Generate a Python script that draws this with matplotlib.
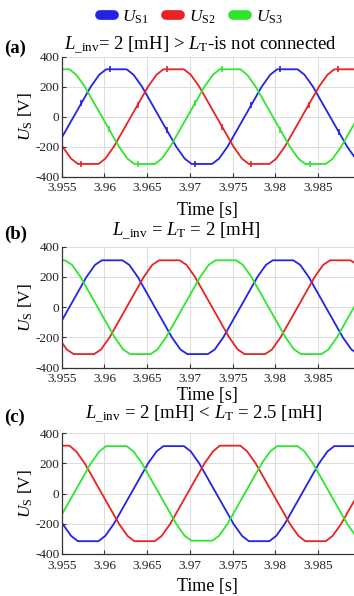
import numpy as np
import matplotlib.pyplot as plt
from matplotlib.lines import Line2D

plt.rcParams['font.family'] = ['Liberation Serif', 'DejaVu Serif']
plt.rcParams['mathtext.fontset'] = 'custom'
plt.rcParams['mathtext.rm'] = 'Liberation Serif'
plt.rcParams['mathtext.it'] = 'Liberation Serif:italic'
plt.rcParams['mathtext.bf'] = 'Liberation Serif:bold'

# ---- panel (a): L_inv = 2 mH, LT not connected ----
t_a1 = [3.9544, 3.9564, 3.9584, 3.9594, 3.9602, 3.9626, 3.9634, 3.9644, 3.9664, 3.9684, 3.9694, 3.9702, 3.9726,
        3.9734, 3.9744, 3.9764, 3.9784, 3.9794, 3.9802, 3.9826, 3.9834, 3.9844, 3.9864, 3.9884, 3.9894]
us_a1 = [-200, 0, 200, 280, 316, 316, 280, 200, 0, -200, -280, -315, -315, -280, -200, 0, 200, 280, 316, 316, 280,
         200, 0, -200, -280]
t_a2 = [3.9531, 3.9551, 3.9561, 3.9569, 3.9593, 3.9601, 3.9611, 3.9631, 3.9651, 3.9661, 3.9669, 3.9693, 3.9701,
        3.9711, 3.9731, 3.9751, 3.9761, 3.9769, 3.9793, 3.9801, 3.9811, 3.9831, 3.9851, 3.9861, 3.9869, 3.9893]
us_a2 = [0, -200, -280, -315, -315, -280, -200, 0, 200, 280, 316, 316, 280, 200, 0, -200, -280, -315, -315, -280,
         -200, 0, 200, 280, 316, 316]
t_a3 = [3.9535, 3.9559, 3.9567, 3.9577, 3.9597, 3.9617, 3.9627, 3.9635, 3.9659, 3.9667, 3.9677, 3.9697, 3.9717,
        3.9727, 3.9735, 3.9759, 3.9767, 3.9777, 3.9797, 3.9817, 3.9827, 3.9835, 3.9859, 3.9867, 3.9877, 3.9897]
us_a3 = [316, 316, 280, 200, 0, -200, -280, -315, -315, -280, -200, 0, 200, 280, 316, 316, 280, 200, 0, -200, -280,
         -315, -315, -280, -200, 0]
# scope markers on panel (a)
mk_a1 = [3.9573, 3.9606, 3.9673, 3.9706, 3.9772, 3.9805, 3.9874]
mk_a2 = [3.9572, 3.9639, 3.9673, 3.9738, 3.9772, 3.9839, 3.9873]
mk_a3 = [3.9605, 3.9639, 3.9706, 3.9738, 3.9806, 3.9840]

# ---- panel (b): L_inv = LT = 2 mH ----
t_b1 = [3.9539, 3.9559, 3.9579, 3.9589, 3.9597, 3.9621, 3.9629, 3.9639, 3.9659, 3.9679, 3.9689, 3.9697, 3.9721,
        3.9729, 3.9739, 3.9759, 3.9779, 3.9789, 3.9797, 3.9821, 3.9829, 3.9839, 3.9859, 3.9879, 3.9889, 3.9897]
us_b1 = [-200, 0, 200, 280, 310, 310, 280, 200, 0, -200, -280, -310, -310, -280, -200, 0, 200, 280, 310, 310, 280,
         200, 0, -200, -280, -310]
t_b2 = [3.9526, 3.9546, 3.9556, 3.9564, 3.9588, 3.9596, 3.9606, 3.9626, 3.9646, 3.9656, 3.9664, 3.9688, 3.9696,
        3.9706, 3.9726, 3.9746, 3.9756, 3.9764, 3.9788, 3.9796, 3.9806, 3.9826, 3.9846, 3.9856, 3.9864, 3.9888, 3.9896]
us_b2 = [0, -200, -280, -310, -310, -280, -200, 0, 200, 280, 310, 310, 280, 200, 0, -200, -280, -310, -310, -280,
         -200, 0, 200, 280, 310, 310, 280]
t_b3 = [3.9530, 3.9554, 3.9562, 3.9572, 3.9592, 3.9612, 3.9622, 3.9630, 3.9654, 3.9662, 3.9672, 3.9692, 3.9712,
        3.9722, 3.9730, 3.9754, 3.9762, 3.9772, 3.9792, 3.9812, 3.9822, 3.9830, 3.9854, 3.9862, 3.9872, 3.9892, 3.9912]
us_b3 = [310, 310, 280, 200, 0, -200, -280, -310, -310, -280, -200, 0, 200, 280, 310, 310, 280, 200, 0, -200, -280,
         -310, -310, -280, -200, 0, 200]

# ---- panel (c): L_inv = 2 mH < LT = 2.5 mH ----
t_c1 = [3.9531, 3.9551, 3.9561, 3.9569, 3.9593, 3.9601, 3.9611, 3.9631, 3.9651, 3.9661, 3.9669, 3.9693, 3.9701,
        3.9711, 3.9731, 3.9751, 3.9761, 3.9769, 3.9793, 3.9801, 3.9811, 3.9831, 3.9851, 3.9861, 3.9869, 3.9893]
us_c1 = [0, -200, -280, -315, -315, -280, -200, 0, 200, 280, 315, 315, 280, 200, 0, -200, -280, -315, -315, -280,
         -200, 0, 200, 280, 315, 315]
t_c2 = [3.9535, 3.9559, 3.9567, 3.9577, 3.9597, 3.9617, 3.9627, 3.9635, 3.9659, 3.9667, 3.9677, 3.9697, 3.9717,
        3.9727, 3.9735, 3.9759, 3.9767, 3.9777, 3.9797, 3.9817, 3.9827, 3.9835, 3.9859, 3.9867, 3.9877, 3.9897]
us_c2 = [318, 318, 280, 200, 0, -200, -280, -315, -315, -280, -200, 0, 200, 280, 318, 318, 280, 200, 0, -200, -280,
         -315, -315, -280, -200, 0]
t_c3 = [3.9544, 3.9564, 3.9584, 3.9594, 3.9602, 3.9626, 3.9634, 3.9644, 3.9664, 3.9684, 3.9694, 3.9702, 3.9726,
        3.9734, 3.9744, 3.9764, 3.9784, 3.9794, 3.9802, 3.9826, 3.9834, 3.9844, 3.9864, 3.9884, 3.9894]
us_c3 = [-200, 0, 200, 280, 315, 315, 280, 200, 0, -200, -280, -312, -312, -280, -200, 0, 200, 280, 315, 315, 280,
         200, 0, -200, -280]

xticks = [3.955, 3.96, 3.965, 3.97, 3.975, 3.98, 3.985]
xtick_labels = ['3.955', '3.96', '3.965', '3.97', '3.975', '3.98', '3.985']
yticks = [-400, -200, 0, 200, 400]
ytick_labels = ['-400', '-200', '0', '200', '400']

colors = ['#2323e6', '#e82323', '#2ee62e']
phase_names = [r'$U_{\mathrm{S1}}$', r'$U_{\mathrm{S2}}$', r'$U_{\mathrm{S3}}$']

W, H = 354, 596
fig = plt.figure(figsize=(W / 100, H / 100), dpi=100)


def add_panel(top, bottom):
    left = 61.7
    return fig.add_axes([left / W, 1 - bottom / H, (W - left) / W, (bottom - top) / H])


def style(ax, xpad):
    ax.set_xlim(3.955, 3.9892)
    ax.set_ylim(-400, 400)
    ax.set_xticks(xticks)
    ax.set_xticklabels(xtick_labels)
    ax.set_yticks(yticks)
    ax.set_yticklabels(ytick_labels)
    ax.grid(True, color='#dcdcdc', lw=0.7)
    ax.set_axisbelow(True)
    for s in ['top', 'right']:
        ax.spines[s].set_visible(False)
    for s in ['left', 'bottom']:
        ax.spines[s].set_color('#333333')
        ax.spines[s].set_linewidth(0.9)
    ax.tick_params(direction='in', length=3, width=0.8, color='#333333',
                   labelsize=9.5, labelcolor='#222222')
    ax.tick_params(axis='x', pad=4)
    ax.tick_params(axis='y', pad=1.5)
    ax.set_xlabel('Time [s]', fontsize=13, labelpad=xpad)
    ax.set_ylabel(r'$U_{\mathrm{S}}$ [V]', fontsize=12.5, labelpad=0)


panels = [
    (56.7, 176.7, [(t_a1, us_a1), (t_a2, us_a2), (t_a3, us_a3)], '(a)',
     r'$L_{\_\mathrm{inv}}$= 2 [mH] > $L_{\mathrm{T}}$-is not connected', 0.475, 1.10, 5.5),
    (246.7, 367.7, [(t_b1, us_b1), (t_b2, us_b2), (t_b3, us_b3)], '(b)',
     r'$L_{\_\mathrm{inv}}$ = $L_{\mathrm{T}}$ = 2 [mH]', 0.425, 1.13, 1.5),
    (433.3, 554.0, [(t_c1, us_c1), (t_c2, us_c2), (t_c3, us_c3)], '(c)',
     r'$L_{\_\mathrm{inv}}$ = 2 [mH] < $L_{\mathrm{T}}$ = 2.5 [mH]', 0.486, 1.163, 5),
]

axes = []
for top, bottom, series, tag, title, tx, ty, xpad in panels:
    ax = add_panel(top, bottom)
    style(ax, xpad)
    for (t, v), c in zip(series, colors):
        ax.plot(t, v, color=c, lw=1.3, solid_joinstyle='round')
    ax.text(tx, ty, title, transform=ax.transAxes, ha='center', va='center', fontsize=13.5)
    ax.text(-0.198, ty - 0.03, tag, transform=ax.transAxes, ha='left', va='center',
            fontsize=13.5, fontweight='bold')
    axes.append(ax)

# small scope markers on panel (a)
for (t, v), mk, c in zip(panels[0][2], [mk_a1, mk_a2, mk_a3], colors):
    axes[0].plot(mk, np.interp(mk, t, v), ls='none', marker='|', ms=4, mew=1.2, color=c)

handles = [Line2D([0], [0], color=c, lw=7, solid_capstyle='round') for c in colors]
fig.legend(handles, phase_names, loc='center', bbox_to_anchor=(0.54, 1 - 17 / H), ncol=3,
           frameon=False, fontsize=12.5, handlelength=0.8, handletextpad=0.5, columnspacing=1.0)

fig.savefig('out.png', dpi=100)
